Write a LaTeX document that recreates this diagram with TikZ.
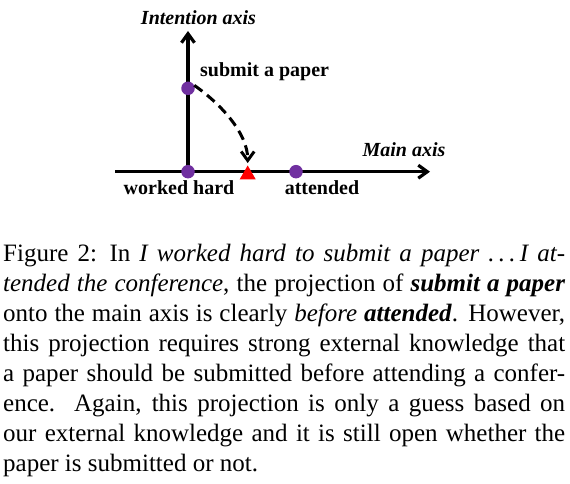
\documentclass[tikz,border=0pt]{standalone}
\usepackage{fontspec}
\setmainfont{Liberation Serif}
\usetikzlibrary{arrows.meta,shapes.geometric}
\definecolor{dotpurple}{HTML}{7030A0}
\begin{document}
\begin{tikzpicture}[x=1pt,y=1pt,
  axisline/.style={line width=3.2pt,-{Straight Barb[length=9pt,width=13pt]}},
  dotnode/.style={circle,fill=dotpurple,inner sep=0pt,minimum size=13.5pt},
  tristyle/.style={regular polygon,regular polygon sides=3,fill=red,inner sep=0pt,minimum size=18.5pt},
  lbl/.style={inner sep=0pt,font=\fontsize{20}{24}\selectfont\bfseries},
  axislbl/.style={inner sep=0pt,font=\fontsize{20}{24}\selectfont\bfseries\itshape},
  proj/.style={line width=3pt,dash pattern=on 10pt off 6pt,-{Straight Barb[length=9pt,width=13pt]}}]
\useasboundingbox (0,0) rectangle (570,484);
% axis end points
\coordinate (hstart) at (115,312.3);
\coordinate (hend) at (430,312.3);
\coordinate (vend) at (188,453);
% dot positions
\coordinate (wh) at (188,312.3);
\coordinate (sp) at (188,395.7);
\coordinate (att) at (296,312.3);
% axes
\draw[axisline] (hstart) -- (hend);
\draw[axisline] (wh) -- (vend);
\node[dotnode] (whd) at (wh) {};
\node[dotnode] (spd) at (sp) {};
\node[dotnode] (attd) at (att) {};
\node[tristyle] (tri) at (247.7,309.3) {};
% projection
\draw[proj] (spd.25) .. controls +(-35:32) and +(90:30) .. ([yshift=2pt]tri.north);
% labels
\node[axislbl,anchor=base] (ia) at (198.5,459) {Intention axis};
\node[axislbl,anchor=base] (ma) at (404,327.3) {Main axis};
\node[lbl,anchor=base west] (spl) at (200,407) {submit a paper};
\node[lbl,anchor=base] (whl) at (179,289) {worked hard};
\node[lbl,anchor=base] (attl) at (322,289) {attended};
% caption
\node[inner sep=0pt,anchor=base west] (cap) at (3,222) {\parbox[t]{562pt}{\fontsize{25}{30}\selectfont
Figure 2:\hspace{0.5em}In \textit{I worked hard to submit a paper .\kern0.17em.\kern0.17em.\kern0.17em I at-}\linebreak
\textit{tended the conference}, the projection of \textbf{\textit{submit a paper}}\linebreak
onto the main axis is clearly \textit{before} \textbf{\textit{attended}}. However,\linebreak
this projection requires strong external knowledge that\linebreak
a paper should be submitted before attending a confer-\linebreak
ence.\ \ Again, this projection is only a guess based on\linebreak
our external knowledge and it is still open whether the\linebreak
paper is submitted or not.}};
\end{tikzpicture}
\end{document}
